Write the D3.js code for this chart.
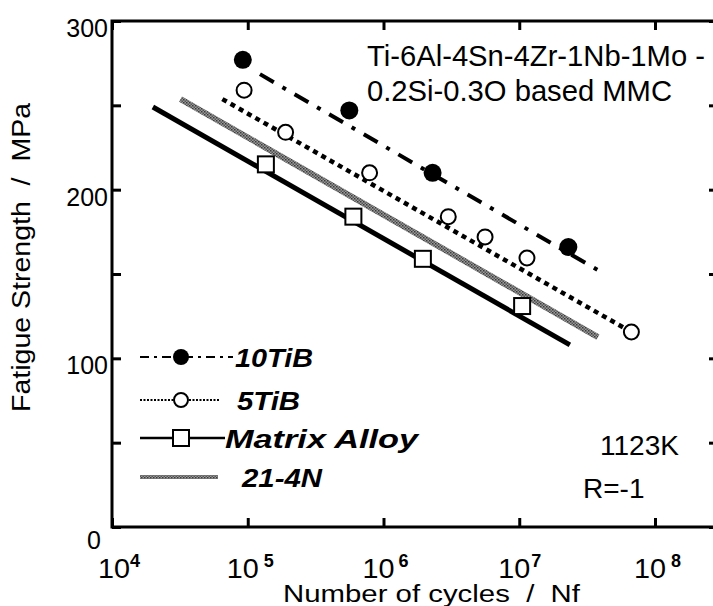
<!DOCTYPE html>
<html>
<head>
<meta charset="utf-8">
<style>
  body { margin: 0; background: #fff; }
  svg { display: block; font-family: "Liberation Sans", Arial, sans-serif; }
</style>
</head>
<body>
<div id="chart"></div>
<script src="https://d3js.org/d3.v7.min.js"></script>
<script>
// data
var xTicks = [1e4, 1e5, 1e6, 1e7, 1e8]
var xExp = ["4", "5", "6", "7", "8"]
var yTicks = [0, 100, 200, 300]
var yMinor = [0, 50, 100, 150, 200, 250, 300]

var tib10N = [9.2e4, 5.6e5, 2.3e6, 2.3e7]
var tib10S = [277, 247, 210, 166]
var tib10Line = [[1.23e5, 268.5], [3.8e7, 152.3]]

var tib5N = [9.4e4, 1.9e5, 7.9e5, 3.0e6, 5.6e6, 1.14e7, 6.7e7]
var tib5S = [259, 234, 210, 184, 172, 159.5, 115.6]
var tib5Line = [[6.5e4, 253.7], [6.7e7, 115.6]]

var matrixN = [1.36e5, 6.0e5, 1.95e6, 1.05e7]
var matrixS = [215, 184, 159, 131]
var matrixLine = [[2.0e4, 249], [2.36e7, 108]]

var n214Line = [[3.2e4, 253.7], [3.8e7, 112.6]]

var legendNames = ["10TiB", "5TiB", "Matrix Alloy", "21-4N"]

var W = 713, H = 606
var L = 112, R = 718, T = 21, B = 527

var svg = d3.select("#chart").append("svg").attr("width", W).attr("height", H)

var x = d3.scaleLog().domain([1e4, 1e8]).range([L, 655])
var y = d3.scaleLinear().domain([0, 300]).range([B, T])

// textured grey line for 21-4N
var defs = svg.append("defs")
var pat = defs.append("pattern").attr("id", "tex").attr("patternUnits", "userSpaceOnUse")
  .attr("width", 3).attr("height", 3)
pat.append("rect").attr("width", 3).attr("height", 3).attr("fill", "#9a9a9a")
pat.append("rect").attr("width", 1.5).attr("height", 1.5).attr("fill", "#3a3a3a")
pat.append("rect").attr("x", 1.5).attr("y", 1.5).attr("width", 1.5).attr("height", 1.5).attr("fill", "#555")

// ticks (inward) via d3 axes
var ax = svg.append("g")
ax.append("g").attr("transform", "translate(0," + B + ")")
  .call(d3.axisTop(x).tickValues(xTicks).tickSize(9).tickFormat(""))
ax.append("g").attr("transform", "translate(0," + T + ")")
  .call(d3.axisBottom(x).tickValues(xTicks).tickSize(9).tickFormat(""))
ax.append("g").attr("transform", "translate(" + L + ",0)")
  .call(d3.axisRight(y).tickValues(yMinor).tickSize(9).tickFormat(""))
ax.append("g").attr("transform", "translate(" + R + ",0)")
  .call(d3.axisLeft(y).tickValues(yMinor).tickSize(9).tickFormat(""))
ax.selectAll(".domain").remove()
ax.selectAll(".tick line").attr("stroke", "#000").attr("stroke-width", 3)

svg.append("path")
  .attr("d", "M" + R + "," + T + "H" + L + "V" + B + "H" + R)
  .attr("fill", "none").attr("stroke", "#000").attr("stroke-width", 3)

// tick labels
svg.selectAll(".ylab").data(yTicks).enter().append("text")
  .attr("x", function(d) { return d === 0 ? 101 : 108 })
  .attr("y", function(d) { return d === 0 ? 549 : y(d) + 16 })
  .attr("text-anchor", "end").attr("font-size", 25)
  .text(function(d) { return d })

var supDx = [0, 5, 4, 1, 5]
var lab = svg.selectAll(".xlab").data(xTicks).enter().append("text")
  .attr("x", function(d, i) { return x(d) - (i === 0 ? 14 : 21) })
  .attr("y", 578).attr("font-size", 28)
lab.append("tspan").attr("textLength", 32).attr("lengthAdjust", "spacingAndGlyphs").text("10")
lab.append("tspan").attr("dx", function(d, i) { return supDx[i] }).attr("dy", -11)
  .attr("font-size", 18).attr("font-weight", "bold")
  .text(function(d, i) { return xExp[i] })

// axis titles
svg.append("text").attr("x", 283).attr("y", 602)
  .attr("font-size", 23).attr("textLength", 297).attr("lengthAdjust", "spacingAndGlyphs")
  .attr("xml:space", "preserve").text("Number of cycles  /  Nf")
svg.append("text").attr("transform", "translate(30,412) rotate(-90)")
  .attr("font-size", 26).attr("textLength", 309).attr("lengthAdjust", "spacingAndGlyphs")
  .attr("xml:space", "preserve").text("Fatigue Strength  /  MPa")

// lines
var line = d3.line().x(function(d) { return x(d[0]) }).y(function(d) { return y(d[1]) })
var plot = svg.append("g")
plot.append("path").attr("d", line(n214Line)).attr("stroke", "url(#tex)").attr("stroke-width", 6).attr("fill", "none")
plot.append("path").attr("d", line(matrixLine)).attr("stroke", "#000").attr("stroke-width", 5).attr("fill", "none")
plot.append("path").attr("d", line(tib5Line)).attr("stroke", "#000").attr("stroke-width", 4.5)
  .attr("stroke-dasharray", "5,4.5").attr("fill", "none")
plot.append("path").attr("d", line(tib10Line)).attr("stroke", "#000").attr("stroke-width", 4)
  .attr("stroke-dasharray", "16,10,4,10").attr("fill", "none")

// markers
plot.selectAll(".sq").data(matrixN).enter().append("rect")
  .attr("x", function(d) { return x(d) - 8 }).attr("y", function(d, i) { return y(matrixS[i]) - 8 })
  .attr("width", 16).attr("height", 16).attr("fill", "#fff").attr("stroke", "#000").attr("stroke-width", 2)
plot.selectAll(".oc").data(tib5N).enter().append("circle")
  .attr("cx", function(d) { return x(d) }).attr("cy", function(d, i) { return y(tib5S[i]) })
  .attr("r", 7.5).attr("fill", "#fff").attr("stroke", "#000").attr("stroke-width", 2)
plot.selectAll(".fc").data(tib10N).enter().append("circle")
  .attr("cx", function(d) { return x(d) }).attr("cy", function(d, i) { return y(tib10S[i]) })
  .attr("r", 9).attr("fill", "#000")

// legend
var lg = svg.append("g")
var ly = [357, 400, 438, 477]
lg.append("line").attr("x1", 140).attr("x2", 233).attr("y1", ly[0]).attr("y2", ly[0])
  .attr("stroke", "#000").attr("stroke-width", 2).attr("stroke-dasharray", "9,5,3,5")
lg.append("circle").attr("cx", 181).attr("cy", ly[0]).attr("r", 8).attr("fill", "#000")
lg.append("line").attr("x1", 140).attr("x2", 220).attr("y1", ly[1]).attr("y2", ly[1])
  .attr("stroke", "#000").attr("stroke-width", 2).attr("stroke-dasharray", "2,1.5")
lg.append("circle").attr("cx", 181).attr("cy", ly[1]).attr("r", 7).attr("fill", "#fff").attr("stroke", "#000").attr("stroke-width", 2)
lg.append("line").attr("x1", 140).attr("x2", 225).attr("y1", ly[2]).attr("y2", ly[2])
  .attr("stroke", "#000").attr("stroke-width", 2.5)
lg.append("rect").attr("x", 173).attr("y", ly[2] - 8).attr("width", 16).attr("height", 16)
  .attr("fill", "#fff").attr("stroke", "#000").attr("stroke-width", 2)
lg.append("line").attr("x1", 140).attr("x2", 218).attr("y1", ly[3]).attr("y2", ly[3])
  .attr("stroke", "url(#tex)").attr("stroke-width", 4)
var lx = [235, 237, 225, 242]
var lw = [78, 63, 193, 80]
lg.selectAll(".lt").data(legendNames).enter().append("text")
  .attr("x", function(d, i) { return lx[i] }).attr("y", function(d, i) { return ly[i] + 10 })
  .attr("font-size", 26).attr("font-weight", "bold").attr("font-style", "italic")
  .attr("textLength", function(d, i) { return lw[i] }).attr("lengthAdjust", "spacingAndGlyphs")
  .text(function(d) { return d })

// annotations
svg.append("text").attr("x", 367).attr("y", 66).attr("font-size", 29)
  .attr("textLength", 338).attr("lengthAdjust", "spacingAndGlyphs").text("Ti-6Al-4Sn-4Zr-1Nb-1Mo -")
svg.append("text").attr("x", 367).attr("y", 101).attr("font-size", 29)
  .attr("textLength", 305).attr("lengthAdjust", "spacingAndGlyphs").text("0.2Si-0.3O based MMC")
svg.append("text").attr("x", 600).attr("y", 455).attr("font-size", 28).text("1123K")
svg.append("text").attr("x", 583).attr("y", 498).attr("font-size", 28).text("R=-1")
</script>
</body>
</html>
